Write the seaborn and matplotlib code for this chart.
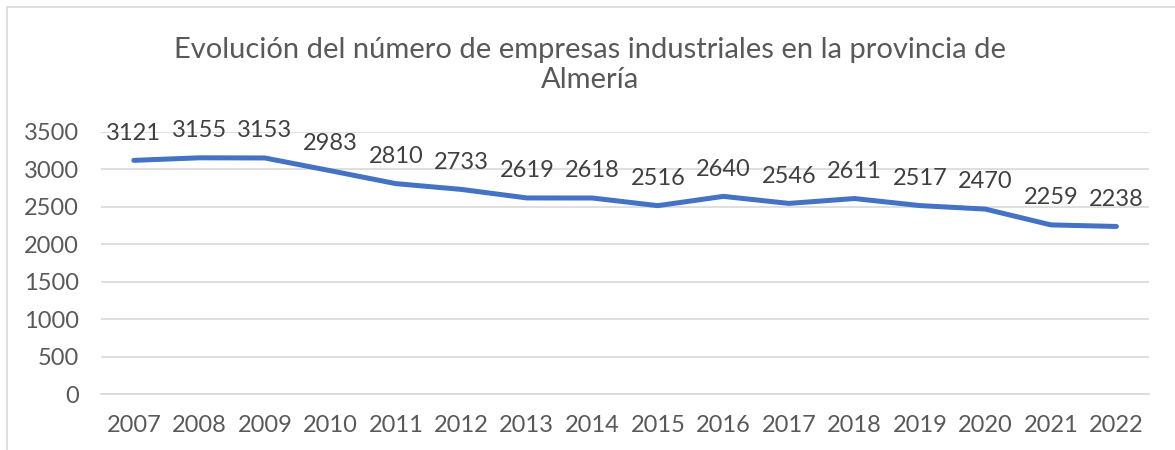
import matplotlib
matplotlib.use('Agg')
import matplotlib.pyplot as plt
import seaborn as sns
import pandas as pd

years = ['2007', '2008', '2009', '2010', '2011', '2012', '2013', '2014',
         '2015', '2016', '2017', '2018', '2019', '2020', '2021', '2022']
empresas = [3121, 3155, 3153, 2983, 2810, 2733, 2619, 2618,
            2516, 2640, 2546, 2611, 2517, 2470, 2259, 2238]
y_ticks = [0, 500, 1000, 1500, 2000, 2500, 3000, 3500]

df = pd.DataFrame({'year': years, 'empresas': empresas})
df['pos'] = range(len(df))

sns.set_theme(style='white')
plt.rcParams['font.family'] = ['Lato', 'DejaVu Sans']

grey = '#595959'
fig = plt.figure(figsize=(11.75, 4.5), dpi=100)
ax = fig.add_axes([0.086, 0.1244, 0.892, 0.5823])

sns.lineplot(data=df, x='pos', y='empresas', ax=ax, color='#4472C4', linewidth=3.6,
             solid_capstyle='round', solid_joinstyle='round')

for _, r in df.iterrows():
    ax.annotate(str(r['empresas']), (r['pos'], r['empresas']), xytext=(0, 12),
                textcoords='offset points', ha='center', va='bottom',
                fontsize=17, color='#404040')

ax.set_xlim(-0.5, len(years) - 0.5)
ax.set_ylim(0, 3500)
ax.set_yticks(y_ticks)
ax.set_xticks(df['pos'])
ax.set_xticklabels(years)
ax.grid(axis='y', color='#D9D9D9', linewidth=1.2)
ax.set_axisbelow(True)
ax.tick_params(axis='both', length=0, labelsize=17, labelcolor=grey)
ax.tick_params(axis='y', pad=16)
ax.tick_params(axis='x', pad=15)
for s in ax.spines.values():
    s.set_visible(False)
ax.spines['bottom'].set_visible(True)
ax.spines['bottom'].set_color('#D9D9D9')
ax.spines['bottom'].set_linewidth(1.2)
ax.set_xlabel('')
ax.set_ylabel('')

fig.text(0.502, 0.855, 'Evolución del número de empresas industriales en la provincia de\nAlmería',
         ha='center', va='center', fontsize=21, color=grey, linespacing=1.2)

# chart frame (top and left edges visible)
fig.add_artist(plt.Line2D([7 / 1175, 1], [1 - 7 / 450, 1 - 7 / 450], color='#D9D9D9', linewidth=1.2))
fig.add_artist(plt.Line2D([7 / 1175, 7 / 1175], [0, 1 - 7 / 450], color='#D9D9D9', linewidth=1.2))

fig.savefig('out.png', dpi=100)
